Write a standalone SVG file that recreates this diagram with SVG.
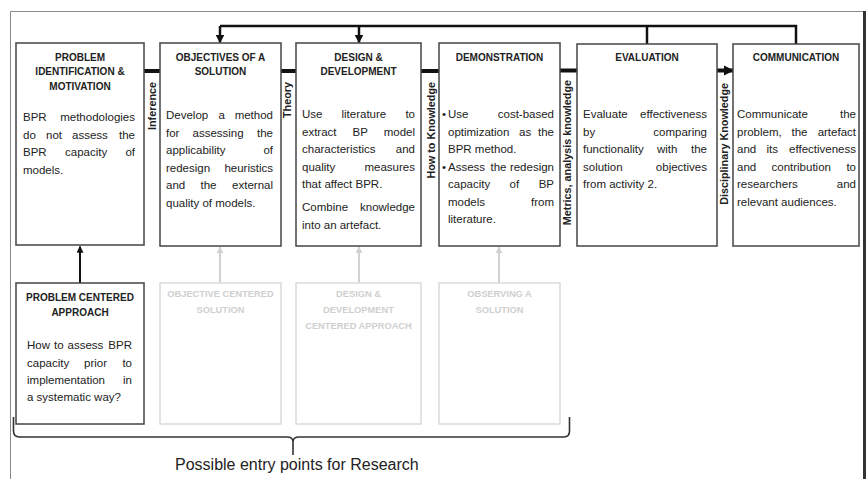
<svg xmlns="http://www.w3.org/2000/svg" width="868" height="479" viewBox="0 0 868 479">
<defs>
<style>
.box{fill:#fff;stroke:#444;stroke-width:1.5}
.gbox{fill:#fff;stroke:#dadada;stroke-width:1.5}
.t{font-family:"Liberation Sans",Arial,sans-serif;font-weight:bold;font-size:10px;fill:#222;text-anchor:middle}
.gt{font-family:"Liberation Sans",Arial,sans-serif;font-weight:bold;font-size:9.3px;fill:#cfcfcf;text-anchor:middle}
.b{font-family:"Liberation Sans",Arial,sans-serif;font-size:11.5px;fill:#222}
.e{text-anchor:end}
.v{font-family:"Liberation Sans",Arial,sans-serif;font-weight:bold;font-size:10.8px;fill:#222;text-anchor:end}
.thick{stroke:#111;stroke-width:4;fill:none}
.fb{stroke:#111;stroke-width:2.5;fill:none}
.up{stroke:#111;stroke-width:2;fill:none}
.gup{stroke:#d2d2d2;stroke-width:2;fill:none}
</style>
<marker id="ah" viewBox="0 0 10 10" refX="9" refY="5" markerWidth="3.5" markerHeight="3.5" orient="auto" markerUnits="strokeWidth"><path d="M0,0 L10,5 L0,10 z" fill="#111"/></marker>
<marker id="ahg" viewBox="0 0 10 10" refX="9" refY="5" markerWidth="3.5" markerHeight="3.5" orient="auto" markerUnits="strokeWidth"><path d="M0,0 L10,5 L0,10 z" fill="#d2d2d2"/></marker>
<marker id="ahb" viewBox="0 0 10 10" refX="9" refY="5" markerWidth="2.6" markerHeight="3" orient="auto" markerUnits="strokeWidth"><path d="M0,0 L10,5 L0,10 z" fill="#111"/></marker>
</defs>
<rect width="868" height="479" fill="#fff"/>
<g id="frame">
<path d="M10.5,479 V11.5 H863" fill="none" stroke="#8a8a8a" stroke-width="1"/>
<line x1="864.5" y1="11" x2="864.5" y2="479" stroke="#333" stroke-width="3"/>
</g>
<g id="connectors">
<line class="thick" x1="144" y1="71" x2="160" y2="71"/>
<line class="thick" x1="281" y1="71" x2="296" y2="71"/>
<line class="thick" x1="421" y1="71" x2="439" y2="71"/>
<line class="thick" x1="560" y1="70.5" x2="577" y2="70.5"/>
<line class="thick" x1="717" y1="70.5" x2="733" y2="70.5" marker-end="url(#ahb)"/>
<path class="fb" d="M796,44 V26 H220"/>
<line class="fb" x1="647" y1="26" x2="647" y2="44"/>
<line class="fb" x1="220" y1="26" x2="220" y2="42.5" marker-end="url(#ah)"/>
<line class="fb" x1="359" y1="26" x2="359" y2="42.5" marker-end="url(#ah)"/>
<line class="up" x1="80" y1="283" x2="80" y2="246.5" marker-end="url(#ah)"/>
<line class="gup" x1="220" y1="283" x2="220" y2="247" marker-end="url(#ahg)"/>
<line class="gup" x1="359" y1="283" x2="359" y2="247" marker-end="url(#ahg)"/>
<line class="gup" x1="499" y1="283" x2="499" y2="247" marker-end="url(#ahg)"/>
<text class="v" transform="translate(156,82) rotate(-90)">Inference</text>
<text class="v" transform="translate(291,82) rotate(-90)">Theory</text>
<text class="v" transform="translate(435,82) rotate(-90)">How to Knowledge</text>
<text class="v" transform="translate(571,80) rotate(-90)">Metrics, analysis knowledge</text>
<text class="v" transform="translate(728,83) rotate(-90)">Disciplinary Knowledge</text>
</g>
<g id="problem-identification">
<rect class="box" x="16" y="43" width="128" height="202"/>
<text class="t" x="80" y="60.5">PROBLEM</text>
<text class="t" x="80" y="75">IDENTIFICATION &amp;</text>
<text class="t" x="80" y="89.5">MOTIVATION</text>
<text class="b" x="23" y="121">BPR</text><text class="b e" x="135" y="121">methodologies</text>
<text class="b" x="23" y="139">do</text><text class="b" x="46" y="139">not</text><text class="b" x="72" y="139">assess</text><text class="b e" x="135" y="139">the</text>
<text class="b" x="23" y="156">BPR</text><text class="b" x="65" y="156">capacity</text><text class="b e" x="135" y="156">of</text>
<text class="b" x="23" y="174">models.</text>
</g>
<g id="objectives">
<rect class="box" x="160" y="43" width="121" height="203"/>
<text class="t" x="220.5" y="60.5">OBJECTIVES OF A</text>
<text class="t" x="220.5" y="75">SOLUTION</text>
<text class="b" x="166" y="119">Develop</text><text class="b" x="218.5" y="119">a</text><text class="b e" x="273" y="119">method</text>
<text class="b" x="166" y="137">for</text><text class="b" x="192.5" y="137">assessing</text><text class="b e" x="273" y="137">the</text>
<text class="b" x="166" y="154">applicability</text><text class="b e" x="273" y="154">of</text>
<text class="b" x="166" y="172">redesign</text><text class="b e" x="273" y="172">heuristics</text>
<text class="b" x="166" y="189">and</text><text class="b" x="200.5" y="189">the</text><text class="b e" x="273" y="189">external</text>
<text class="b" x="166" y="207">quality of models.</text>
</g>
<g id="design-development">
<rect class="box" x="296" y="43" width="125" height="203"/>
<text class="t" x="358.5" y="60.5">DESIGN &amp;</text>
<text class="t" x="358.5" y="75">DEVELOPMENT</text>
<text class="b" x="302" y="118">Use</text><text class="b" x="341.5" y="118">literature</text><text class="b e" x="415" y="118">to</text>
<text class="b" x="302" y="136">extract</text><text class="b" x="352.5" y="136">BP</text><text class="b e" x="415" y="136">model</text>
<text class="b" x="302" y="153">characteristics</text><text class="b e" x="415" y="153">and</text>
<text class="b" x="302" y="171">quality</text><text class="b e" x="415" y="171">measures</text>
<text class="b" x="302" y="188">that affect BPR.</text>
<text class="b" x="302" y="211">Combine</text><text class="b e" x="415" y="211">knowledge</text>
<text class="b" x="302" y="229">into an artefact.</text>
</g>
<g id="demonstration">
<rect class="box" x="439" y="43" width="121" height="203"/>
<text class="t" x="499.5" y="60.5">DEMONSTRATION</text>
<text class="b" x="442" y="118">•</text><text class="b" x="448" y="118">Use</text><text class="b e" x="554" y="118">cost-based</text>
<text class="b" x="448" y="136">optimization</text><text class="b" x="519" y="136">as</text><text class="b e" x="554" y="136">the</text>
<text class="b" x="448" y="153">BPR method.</text>
<text class="b" x="442" y="171">•</text><text class="b" x="448" y="171">Assess</text><text class="b" x="490.5" y="171">the</text><text class="b e" x="554" y="171">redesign</text>
<text class="b" x="448" y="188">capacity</text><text class="b" x="509.5" y="188">of</text><text class="b e" x="554" y="188">BP</text>
<text class="b" x="448" y="206">models</text><text class="b e" x="554" y="206">from</text>
<text class="b" x="448" y="223">literature.</text>
</g>
<g id="evaluation">
<rect class="box" x="577" y="44" width="140" height="202"/>
<text class="t" x="647" y="60.5">EVALUATION</text>
<text class="b" x="583" y="118">Evaluate</text><text class="b e" x="707" y="118">effectiveness</text>
<text class="b" x="583" y="136">by</text><text class="b e" x="707" y="136">comparing</text>
<text class="b" x="583" y="153">functionality</text><text class="b" x="657" y="153">with</text><text class="b e" x="707" y="153">the</text>
<text class="b" x="583" y="171">solution</text><text class="b e" x="707" y="171">objectives</text>
<text class="b" x="583" y="188">from activity 2.</text>
</g>
<g id="communication">
<rect class="box" x="733" y="44" width="126" height="202"/>
<text class="t" x="796" y="60.5">COMMUNICATION</text>
<text class="b" x="737" y="118">Communicate</text><text class="b e" x="856" y="118">the</text>
<text class="b" x="737" y="136">problem,</text><text class="b" x="791.5" y="136">the</text><text class="b e" x="856" y="136">artefact</text>
<text class="b" x="737" y="153">and</text><text class="b" x="766.5" y="153">its</text><text class="b e" x="856" y="153">effectiveness</text>
<text class="b" x="737" y="171">and</text><text class="b" x="771.5" y="171">contribution</text><text class="b e" x="856" y="171">to</text>
<text class="b" x="737" y="188">researchers</text><text class="b e" x="856" y="188">and</text>
<text class="b" x="737" y="206">relevant audiences.</text>
</g>
<g id="problem-centered">
<rect class="box" x="16" y="283" width="128" height="141"/>
<text class="t" x="80" y="300.5">PROBLEM CENTERED</text>
<text class="t" x="80" y="316">APPROACH</text>
<text class="b" x="27" y="349">How</text><text class="b" x="54" y="349">to</text><text class="b" x="67.5" y="349">assess</text><text class="b e" x="132" y="349">BPR</text>
<text class="b" x="27" y="367">capacity</text><text class="b" x="84" y="367">prior</text><text class="b e" x="132" y="367">to</text>
<text class="b" x="27" y="384">implementation</text><text class="b e" x="132" y="384">in</text>
<text class="b" x="27" y="401">a systematic way?</text>
</g>
<g id="objective-centered">
<rect class="gbox" x="160" y="283" width="121" height="141"/>
<text class="gt" x="220.5" y="296.5">OBJECTIVE CENTERED</text>
<text class="gt" x="220.5" y="312.5">SOLUTION</text>
</g>
<g id="design-centered">
<rect class="gbox" x="296" y="283" width="125" height="141"/>
<text class="gt" x="358.5" y="296.5">DESIGN &amp;</text>
<text class="gt" x="358.5" y="312.5">DEVELOPMENT</text>
<text class="gt" x="358.5" y="328.5">CENTERED APPROACH</text>
</g>
<g id="observing">
<rect class="gbox" x="439" y="283" width="121" height="141"/>
<text class="gt" x="499.5" y="296.5">OBSERVING A</text>
<text class="gt" x="499.5" y="312.5">SOLUTION</text>
</g>
<g id="entry-points">
<path d="M13.5,417 V431 Q13.5,437 19.5,437 H287 Q293,437 293,442 V455 M293,442 Q293,437 299,437 H564 Q569.5,437 569.5,431 V417" fill="none" stroke="#333" stroke-width="1.6"/>
<text x="175" y="470" font-family="'Liberation Sans',Arial,sans-serif" font-size="16px" fill="#222">Possible entry points for Research</text>
</g>
</svg>
